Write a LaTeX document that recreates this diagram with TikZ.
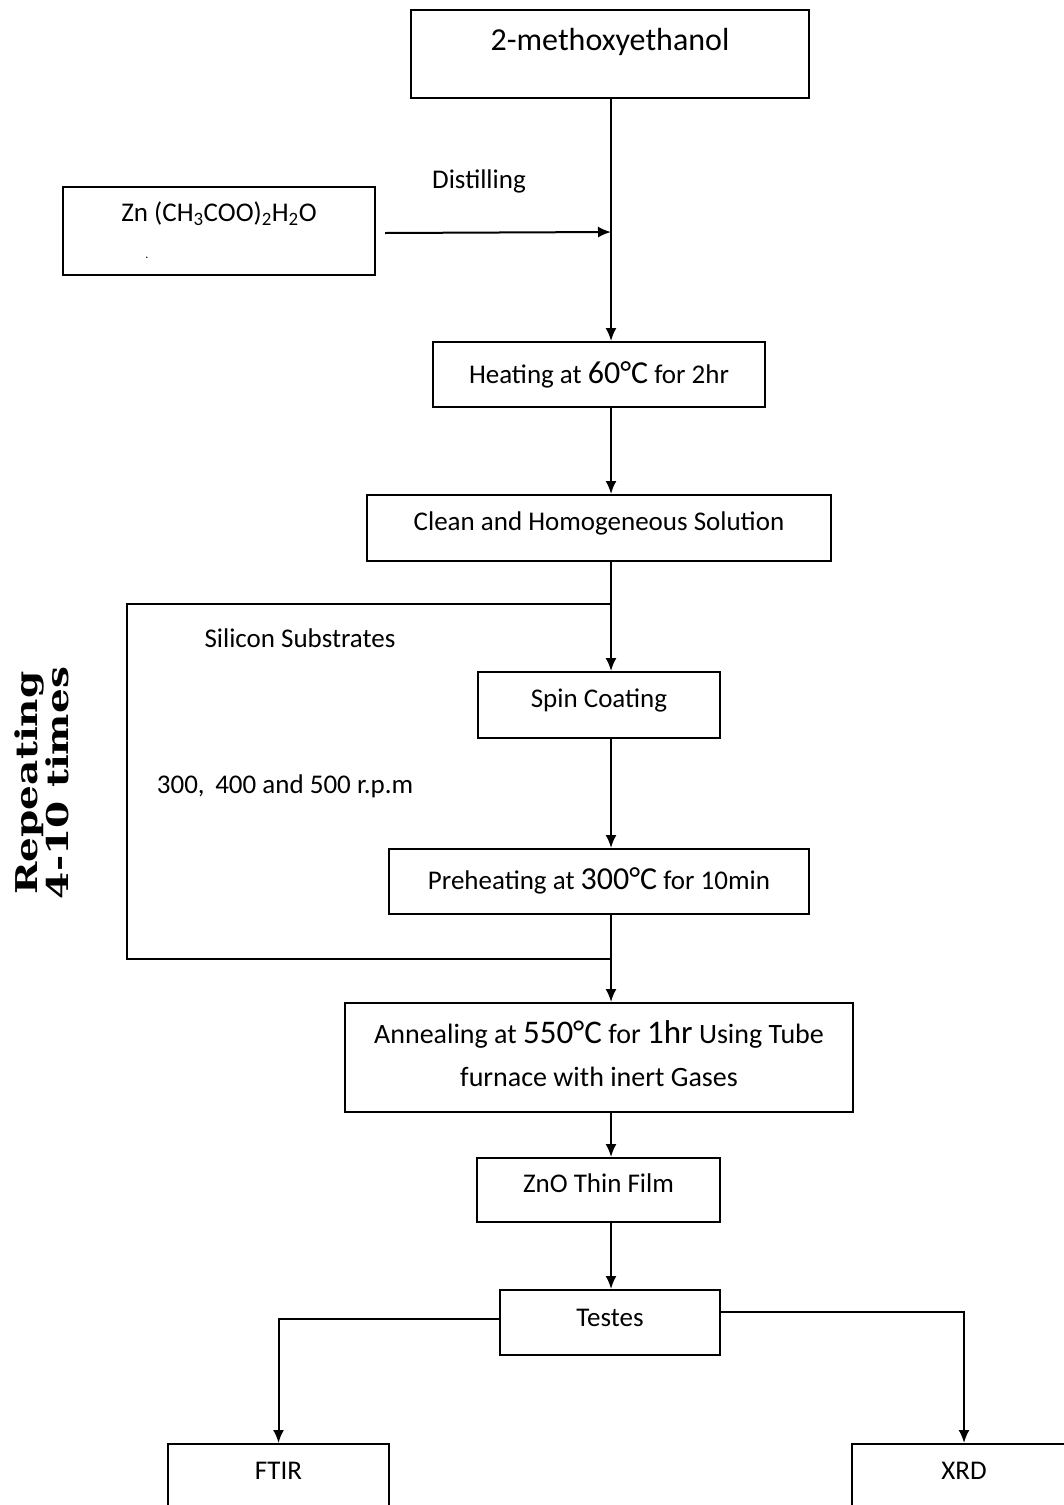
\documentclass[tikz,border=0pt]{standalone}
\usepackage{fontspec}
\setmainfont{Carlito}
\newfontfamily\slabfont{DejaVu Serif}
\usetikzlibrary{arrows.meta}
\newcommand\bignum[1]{{\fontsize{32}{32}\selectfont #1}}
\begin{document}
\begin{tikzpicture}[x=1pt,y=-1pt,
  font=\fontsize{27}{30}\selectfont,
  box/.style={draw, line width=2pt, inner sep=0pt},
  line/.style={line width=2pt},
  arr/.style={line width=2pt, -{Latex[length=13pt,width=11pt]}},
  toplabel/.style={anchor=center}]
\useasboundingbox (0,0) rectangle (1064,1505);

% boxes
\node[box, minimum width=398pt, minimum height=88pt,
  label={[toplabel, font=\fontsize{32}{34}\selectfont]center:{\raisebox{30pt}{2-methoxyethanol}}}] (meth) at (610,54) {};
\node[box, minimum width=312pt, minimum height=88pt,
  label={[toplabel]center:{\raisebox{38pt}{Zn (CH\textsubscript{3}COO)\textsubscript{2}H\textsubscript{2}O}}}] (zn) at (219,231) {};
\node[box, minimum width=332pt, minimum height=65pt] (heat) at (599,374.5) {\raisebox{2pt}{Heating at \bignum{60°C} for 2hr}};
\node[box, minimum width=464pt, minimum height=66pt] (clean) at (599,528) {\raisebox{14pt}{Clean and Homogeneous Solution}};
\node[box, minimum width=242pt, minimum height=66pt] (spin) at (599,705) {\raisebox{14pt}{Spin Coating}};
\node[box, minimum width=420pt, minimum height=65pt] (pre) at (599,881.5) {\raisebox{6pt}{Preheating at \bignum{300°C} for 10min}};
\node[box, minimum width=508pt, minimum height=109pt, align=center,
  font=\fontsize{28}{43}\selectfont] (ann) at (599,1057.5) {\raisebox{7pt}{Annealing at {\fontsize{33}{33}\selectfont 550°C} for {\fontsize{33}{33}\selectfont 1hr} Using Tube}\\\raisebox{7pt}{furnace with inert Gases}};
\node[box, minimum width=243pt, minimum height=64pt] (zno) at (598.5,1190) {\raisebox{14pt}{ZnO Thin Film}};
\node[box, minimum width=220pt, minimum height=65pt] (test) at (610,1322.5) {\raisebox{9pt}{Testes}};
\node[box, minimum width=221pt, minimum height=100pt,
  label={[toplabel]center:{\raisebox{47pt}{FTIR}}}] (ftir) at (278.5,1494) {};
\node[box, minimum width=224pt, minimum height=100pt,
  label={[toplabel]center:{\raisebox{47pt}{XRD}}}] (xrd) at (964,1494) {};

% free labels
\node[font=\fontsize{12}{12}\selectfont] (dot) at (147,258) {.};
\node (dist) at (479,181) {Distilling};
\node (si) at (300,638) {Silicon Substrates};
\node (rpm) at (285,786) {300,\, 400 and 500 r.p.m};
\node[rotate=90, align=center, font=\slabfont\bfseries\fontsize{30}{28}\selectfont] (rep) at (42,783) {\scalebox{1.3}[1]{Repeating}\\\scalebox{1.3}[1]{4-10 times}};

% coordinates
\coordinate (j1) at (611,232);
\coordinate (lt) at (611,604);
\coordinate (ll) at (127,959);
\coordinate (lb) at (611,959);
\coordinate (zs) at (385,233);

% connectors
\draw[arr] (meth.south -| j1) -- (heat.north -| j1);
\draw[arr] (zs) -- (j1);
\draw[arr] (heat.south -| j1) -- (clean.north -| j1);
\draw[arr] (clean.south -| j1) -- (spin.north -| j1);
\draw[line] (lt) -| (ll) -- (lb);
\draw[arr] (spin.south -| j1) -- (pre.north -| j1);
\draw[arr] (pre.south -| j1) -- (ann.north -| j1);
\draw[arr] (ann.south -| j1) -- (zno.north -| j1);
\draw[arr] (zno.south -| j1) -- (test.north -| j1);
\draw[arr] ([yshift=4pt]test.west) -| (ftir.north);
\draw[arr] ([yshift=11pt]test.east) -| (xrd.north);
\end{tikzpicture}
\end{document}
